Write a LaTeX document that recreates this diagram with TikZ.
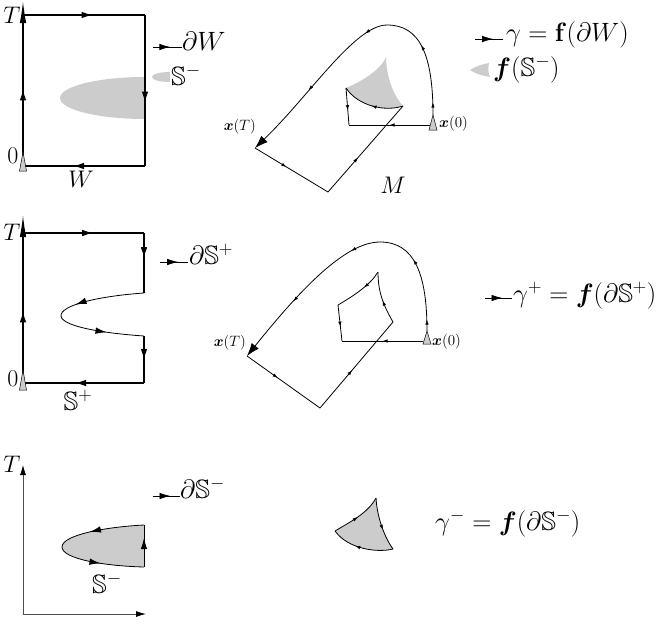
\RequirePackage{fix-cm}
\documentclass[tikz,border=0pt]{standalone}
\usepackage{amsmath,amssymb,bm}
\usetikzlibrary{arrows.meta,decorations.markings}
\newcommand{\legsize}{\fontsize{26.5}{30}\selectfont}
\newcommand{\axsize}{\fontsize{24}{28}\selectfont}
\newcommand{\smsize}{\fontsize{15}{18}\selectfont}
\begin{document}
\begin{tikzpicture}[x=1pt,y=-1pt,
  bx/.style={line width=1.2pt},
  cv/.style={line width=0.8pt},
  ba/.style={postaction={decorate,decoration={markings,mark=at position #1 with {\arrow{Latex[length=11pt,width=6.5pt]}}}}},
  sa/.style={postaction={decorate,decoration={markings,mark=at position #1 with {\arrow{Latex[length=5pt,width=3.5pt]}}}}},
  grayfill/.style={fill=gray!40},
  lbl/.style={inner sep=0pt,font=\axsize},
  leg/.style={inner sep=0pt,font=\legsize},
  sml/.style={inner sep=0pt,font=\smsize},
  startmark/.style={draw=black,fill=gray!40,line width=0.5pt},
  bigtip/.style={-{Latex[length=22pt,width=6.5pt]}},
  endtip/.style={-{Latex[length=13pt,width=9pt]}},
]
\useasboundingbox (0,0) rectangle (663,624);

% ---------- panel 1: W ----------
\coordinate (a0) at (23,171); \coordinate (aT) at (23,1);
\coordinate (c00) at (23,166); \coordinate (c0T) at (23,15);
\coordinate (c1T) at (145,15); \coordinate (c10) at (145,166);
\fill[grayfill] (145,77) .. controls (98,77) and (60,86.4) .. (60,98) .. controls (60,109.6) and (98,119) .. (145,119) -- cycle;
\draw[bx,ba=0.48,bigtip] (a0) -- (aT);
\draw[bx,ba=0.57] (c0T) -- (c1T);
\draw[bx,ba=0.58] (c1T) -- (c10);
\draw[bx,ba=0.59] (c10) -- (c00);
\draw[startmark] (19.5,171) -- (23,152) -- (26.5,171) -- cycle;
\node[lbl,anchor=base] (t1) at (12,23) {$T$};
\node[lbl,anchor=base] (z1) at (13,163) {$0$};
\node[lbl,anchor=base] (w1) at (81,187) {$W$};

\coordinate (l1a) at (153,47); \coordinate (l1b) at (182,47);
\draw[cv,ba=0.6] (l1a) -- (l1b);
\node[leg,anchor=base west] (dW) at (182,50) {$\partial W$};
\fill[grayfill] (170,72) .. controls (160,72) and (152,74) .. (152,77) .. controls (152,80) and (160,82) .. (170,82) -- cycle;
\node[leg,anchor=base west] (sm1) at (171,85) {$\mathbb{S}^-$};

% trajectory 1
\coordinate (x0a) at (433,115); \coordinate (topa) at (387,25);
\coordinate (xTa) at (255,148); \coordinate (boa) at (328,192);
\coordinate (p3a) at (403,106); \coordinate (p1a) at (346,88);
\coordinate (p2a) at (386,57); \coordinate (p4a) at (349,125);
\coordinate (p5a) at (430,125);
\fill[grayfill] (p1a) .. controls (365,80) and (382,68) .. (p2a) .. controls (386,75) and (393,95) .. (p3a) .. controls (385,112) and (358,106) .. (p1a) -- cycle;
\draw[cv,sa=0.11,sa=0.63] (x0a) .. controls (433,55) and (420,25) .. (topa);
\draw[cv,sa=0.13,sa=0.57,endtip] (topa) .. controls (355,25) and (310,95) .. (xTa);
\draw[cv,sa=0.43] (xTa) -- (boa);
\draw[cv,sa=0.4] (boa) -- (p3a);
\draw[cv,sa=0.5] (p3a) .. controls (385,112) and (358,106) .. (p1a);
\draw[cv,sa=0.6] (p1a) -- (p4a);
\draw[cv,sa=0.5] (p5a) -- (p4a);
\draw[startmark] (429,130) -- (433,115) -- (437,130) -- cycle;
\node[sml,anchor=base east] (xT1) at (256,130) {$\bm{x}(T)$};
\node[sml,anchor=base west] (x01) at (439,127) {$\bm{x}(0)$};
\node[lbl,anchor=base] (M) at (393,193) {$M$};

\coordinate (l2a) at (475,39); \coordinate (l2b) at (503,39);
\draw[cv,ba=0.65] (l2a) -- (l2b);
\node[leg,anchor=base west] (g1) at (506,41) {$\gamma=\mathbf{f}(\partial W)$};
\fill[grayfill] (470,70) .. controls (476,66) and (483,64) .. (489,63) .. controls (488,68) and (488,73) .. (490,77) .. controls (483,76) and (476,74) .. (470,70) -- cycle;
\node[leg,anchor=base west] (fS) at (493,76) {$\bm{f}(\mathbb{S}^-)$};

% ---------- panel 2: S+ ----------
\coordinate (b0) at (23,390); \coordinate (bT) at (23,215);
\coordinate (d0T) at (23,233); \coordinate (d1T) at (144,233);
\coordinate (d1u) at (144,293); \coordinate (dtip) at (61,316);
\coordinate (d1l) at (144,336); \coordinate (d10) at (144,383);
\coordinate (d00) at (23,383);
\draw[bx,ba=0.45,bigtip] (b0) -- (bT);
\draw[bx,ba=0.58] (d0T) -- (d1T);
\draw[bx,ba=0.42] (d1T) -- (d1u);
\draw[cv,ba=0.78] (d1u) .. controls (100,296) and (60,305) .. (dtip);
\draw[cv,ba=0.57] (dtip) .. controls (62,326) and (100,333) .. (d1l);
\draw[bx,ba=0.51] (d1l) -- (d10);
\draw[bx,ba=0.57] (d10) -- (d00);
\draw[startmark] (19.5,390) -- (23,370) -- (26.5,390) -- cycle;
\node[lbl,anchor=base] (t2) at (12,240) {$T$};
\node[lbl,anchor=base] (z2) at (13,386) {$0$};
\node[leg,anchor=base] (sp) at (78,410) {$\mathbb{S}^+$};
\coordinate (l3a) at (160,262); \coordinate (l3b) at (188,262);
\draw[cv,ba=0.65] (l3a) -- (l3b);
\node[leg,anchor=base west] (dSp) at (189,264) {$\partial\mathbb{S}^+$};

% trajectory 2
\coordinate (x0b) at (427,331); \coordinate (topb) at (380,242);
\coordinate (xTb) at (247,356); \coordinate (bob) at (320,408);
\coordinate (q3) at (393,322); \coordinate (q2) at (378,272);
\coordinate (q1) at (338,305); \coordinate (q4) at (342,341);
\coordinate (q5) at (423,341);
\draw[cv,sa=0.1,sa=0.65] (x0b) .. controls (427,275) and (415,242) .. (topb);
\draw[cv,sa=0.17,sa=0.6,endtip] (topb) .. controls (345,242) and (300,290) .. (xTb);
\draw[cv,sa=0.42] (xTb) -- (bob);
\draw[cv,sa=0.44] (bob) -- (q3);
\draw[cv,sa=0.45] (q3) .. controls (382,303) and (378,290) .. (q2);
\draw[cv,sa=0.4] (q2) .. controls (370,285) and (355,295) .. (q1);
\draw[cv,sa=0.6] (q1) -- (q4);
\draw[cv,sa=0.5] (q5) -- (q4);
\draw[startmark] (423,344) -- (427,331) -- (431,344) -- cycle;
\node[sml,anchor=base east] (xT2) at (246,346) {$\bm{x}(T)$};
\node[sml,anchor=base west] (x02) at (432,345) {$\bm{x}(0)$};
\coordinate (l4a) at (485,298); \coordinate (l4b) at (512,298);
\draw[cv,ba=0.65] (l4a) -- (l4b);
\node[leg,anchor=base west] (gp) at (513,302) {$\gamma^+=\bm{f}(\partial\mathbb{S}^+)$};

% ---------- panel 3: S- ----------
\coordinate (o3) at (23,614); \coordinate (y3) at (23,465); \coordinate (x3) at (146,614);
\draw[line width=0.8pt,black!70,-{Latex[length=10pt,width=6pt,black]}] (o3) -- (y3);
\draw[line width=0.8pt,black!70,-{Latex[length=10pt,width=6pt,black]}] (o3) -- (x3);
\node[lbl,anchor=base] (t3) at (12,472) {$T$};
\coordinate (e1) at (144,567); \coordinate (e2) at (144,525); \coordinate (etip) at (62,547);
\fill[grayfill] (e1) -- (e2) .. controls (105,527) and (62,535) .. (etip) .. controls (62,559) and (105,566) .. (e1) -- cycle;
\draw[cv,ba=0.69] (e1) -- (e2);
\draw[cv,ba=0.62] (e2) .. controls (105,527) and (62,535) .. (etip);
\draw[cv,ba=0.5] (etip) .. controls (62,559) and (105,566) .. (e1);
\node[leg,anchor=base west] (sm3) at (92,593) {$\mathbb{S}^-$};
\coordinate (l5a) at (153,496); \coordinate (l5b) at (180,496);
\draw[cv,ba=0.65] (l5a) -- (l5b);
\node[leg,anchor=base west] (dSm) at (180,498) {$\partial\mathbb{S}^-$};

\coordinate (r1) at (335,531); \coordinate (r2) at (376,498); \coordinate (r3) at (393,549);
\fill[grayfill] (r1) .. controls (350,522) and (368,513) .. (r2) .. controls (377,515) and (383,535) .. (r3) .. controls (377,553) and (348,549) .. (r1) -- cycle;
\draw[cv,sa=0.5] (r1) .. controls (350,522) and (368,513) .. (r2);
\draw[cv,sa=0.6] (r2) .. controls (377,515) and (383,535) .. (r3);
\draw[cv,sa=0.6] (r3) .. controls (377,553) and (348,549) .. (r1);
\node[leg,anchor=base west] (gm) at (435,530) {$\gamma^-=\bm{f}(\partial\mathbb{S}^-)$};
\end{tikzpicture}
\end{document}
